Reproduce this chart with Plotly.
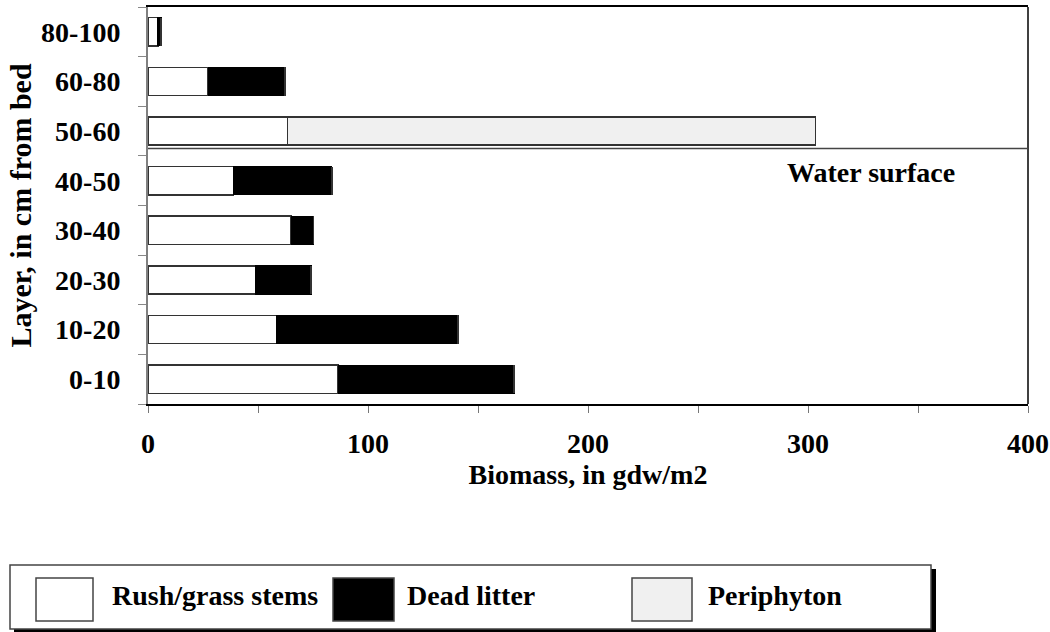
import plotly.graph_objects as go

# layers, bottom to top
layers = ["0-10", "10-20", "20-30", "30-40", "40-50", "50-60", "60-80", "80-100"]
rush_stems = [86.4, 58.6, 48.8, 65.0, 38.8, 63.5, 27.3, 4.5]
dead_litter = [80.0, 82.4, 25.4, 10.3, 44.8, 0.0, 35.0, 1.5]
periphyton = [0.0, 0.0, 0.0, 0.0, 0.0, 240.0, 0.0, 0.0]

x_ticks = [0, 100, 200, 300, 400]
legend_names = ["Rush/grass stems", "Dead litter", "Periphyton"]
legend_colors = ["#ffffff", "#000000", "#f0f0f0"]

W, H = 1050, 632
L, R, T, B = 148, 22, 7, 228
FONT = dict(family="Liberation Serif, Times New Roman, serif", size=28, color="black", weight="bold")
Y_TITLE_FONT = dict(FONT, size=30)


def px_x(px):
    return (px - L) / (W - L - R)


def px_y(py):
    return (H - B - py) / (H - T - B)


fig = go.Figure()
fig.add_trace(go.Bar(y=layers, x=rush_stems, orientation="h", name=legend_names[0],
                     marker=dict(color=legend_colors[0], line=dict(color="#333333", width=1.5))))
fig.add_trace(go.Bar(y=layers, x=dead_litter, orientation="h", name=legend_names[1],
                     marker=dict(color=legend_colors[1], line=dict(color="#000000", width=1))))
fig.add_trace(go.Bar(y=layers, x=periphyton, orientation="h", name=legend_names[2],
                     marker=dict(color=legend_colors[2], line=dict(color="#333333", width=1.5))))

fig.update_layout(
    width=W, height=H,
    barmode="stack", bargap=0.43, showlegend=False,
    plot_bgcolor="white", paper_bgcolor="white",
    margin=dict(l=L, r=R, t=T, b=B, autoexpand=False),
    font=FONT,
    xaxis=dict(
        range=[0, 400], tickvals=x_ticks, ticks="outside", ticklen=7, tickcolor="#777777",
        minor=dict(dtick=50, ticks="outside", ticklen=7, tickcolor="#777777"),
        showgrid=False, zeroline=False, showline=True, linecolor="black", linewidth=1.5, mirror=True,
        ticklabelstandoff=7, tickfont=FONT, automargin=False,
        title=dict(text="Biomass, in gdw/m2", font=FONT, standoff=2),
    ),
    xaxis2=dict(
        range=[0, 400], overlaying="x", anchor="y", side="bottom", dtick=50, tick0=0,
        ticks="inside", ticklen=7, tickcolor="#777777", showticklabels=False,
        showgrid=False, zeroline=False, showline=False, automargin=False,
    ),
    yaxis=dict(
        type="category", categoryorder="array", categoryarray=layers, range=[-0.5, 7.5],
        tickson="boundaries", ticks="outside", ticklen=8, tickcolor="#888888",
        showgrid=False, zeroline=False, showline=True, linecolor="#808080", linewidth=2,
        ticklabelstandoff=20, tickfont=FONT, automargin=False,
        title=dict(text="Layer, in cm from bed", font=Y_TITLE_FONT, standoff=1),
    ),
    yaxis2=dict(
        range=[-0.5, 7.5], overlaying="y", anchor="x", side="left",
        tickvals=[i - 0.5 for i in range(len(layers) + 1)],
        ticks="inside", ticklen=8, tickcolor="#888888", showticklabels=False,
        showgrid=False, zeroline=False, showline=False, automargin=False,
    ),
)

# right border of the plot frame
fig.add_shape(type="line", xref="paper", yref="paper", x0=1, x1=1, y0=0, y1=1,
              line=dict(color="black", width=1.5))

# water surface line just above the 40-50 layer
fig.add_shape(type="line", xref="paper", yref="y", x0=0, x1=1, y0=4.65, y1=4.65,
              line=dict(color="#444444", width=1.5))
fig.add_annotation(text="Water surface", xref="paper", yref="paper", x=px_x(871), y=px_y(172),
                   showarrow=False, font=FONT, xanchor="center", yanchor="middle")

# legend box with shadow, drawn below the plot
fig.add_shape(type="rect", xref="paper", yref="paper", layer="above",
              x0=px_x(14), x1=px_x(936), y0=px_y(632), y1=px_y(569),
              fillcolor="black", line=dict(width=0))
fig.add_shape(type="rect", xref="paper", yref="paper", layer="above",
              x0=px_x(10), x1=px_x(931), y0=px_y(629), y1=px_y(565),
              fillcolor="white", line=dict(color="#444444", width=1.5))
swatch_left = [36, 333, 632]
swatch_right = [93, 394, 692]
label_left = [110, 405, 706]
for name, color, x0, x1, lx in zip(legend_names, legend_colors, swatch_left, swatch_right, label_left):
    fig.add_shape(type="rect", xref="paper", yref="paper", layer="above",
                  x0=px_x(x0), x1=px_x(x1), y0=px_y(621), y1=px_y(578),
                  fillcolor=color, line=dict(color="#444444", width=1.5))
    fig.add_annotation(text=name, xref="paper", yref="paper", x=px_x(lx), y=px_y(595),
                       showarrow=False, font=FONT, xanchor="left", yanchor="middle")

# the page's default body margin would shift the fixed-size figure
fig.write_html("out.html", config={"displayModeBar": False},
               post_script="document.body.style.margin = '0px';")
